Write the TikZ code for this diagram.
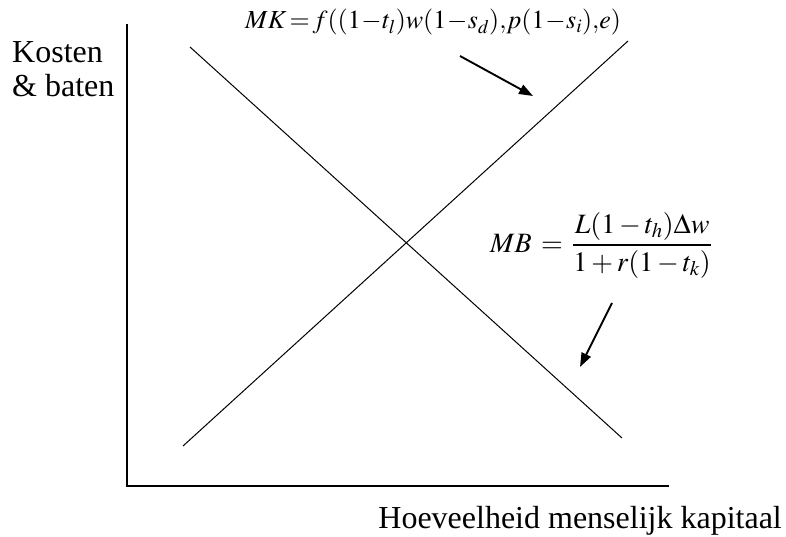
\documentclass[tikz,border=0pt]{standalone}
\usepackage{mathptmx}
\usepackage[no-math]{fontspec}
\setmainfont{Liberation Serif}
\usetikzlibrary{arrows.meta}

\begin{document}
\begin{tikzpicture}[
    x=1pt,
    y=-1pt,
    axis/.style={line width=1.3pt, line cap=rect},
    curve/.style={line width=1pt},
    pointer/.style={-{Triangle[length=14pt,width=10pt]}, line width=1.9pt},
    axislabel/.style={inner sep=0pt, font=\fontsize{32}{34}\selectfont, align=left},
    formula/.style={inner sep=0pt, font=\fontsize{26}{30}\selectfont}
  ]
    \useasboundingbox (0,0) rectangle (786,537);

    % Axes
    \coordinate (origin) at (127,486);
    \coordinate (ytop) at (127,25);
    \coordinate (xend) at (668,486);
    \draw[axis] (ytop) -- (origin) -- (xend);

    % Axis labels
    \node[axislabel, anchor=north west] (ylabel) at (12,41) {Kosten\\\& baten};
    \node[axislabel, anchor=base east] (xlabel) at (782,528) {Hoeveelheid menselijk kapitaal};

    % Marginal cost and marginal benefit lines
    \coordinate (mklow) at (183,446);
    \coordinate (mkhigh) at (628,41);
    \coordinate (mbhigh) at (190,47);
    \coordinate (mblow) at (622,438);
    \draw[curve] (mklow) -- (mkhigh);
    \draw[curve] (mbhigh) -- (mblow);

    % Formulas
    \node[formula, anchor=base west] (mk) at (245,29)
      {$MK\!=\!f((1\!-\!t_l)w(1\!-\!s_d){,}p(1\!-\!s_i){,}e)$};
    \node[formula, anchor=base west, font=\fontsize{28}{32}\selectfont] (mb) at (490,252)
      {$\displaystyle MB\,=\,\frac{L(1-t_h)\Delta w}{1+r(1-t_k)}$};

    % Pointers from formulas to lines
    \coordinate (mkfrom) at (460,56);
    \coordinate (mkto) at (533,96);
    \coordinate (mbfrom) at (612,303);
    \coordinate (mbto) at (580,367);
    \draw[pointer] (mkfrom) -- (mkto);
    \draw[pointer] (mbfrom) -- (mbto);
  \end{tikzpicture}
\end{document}
